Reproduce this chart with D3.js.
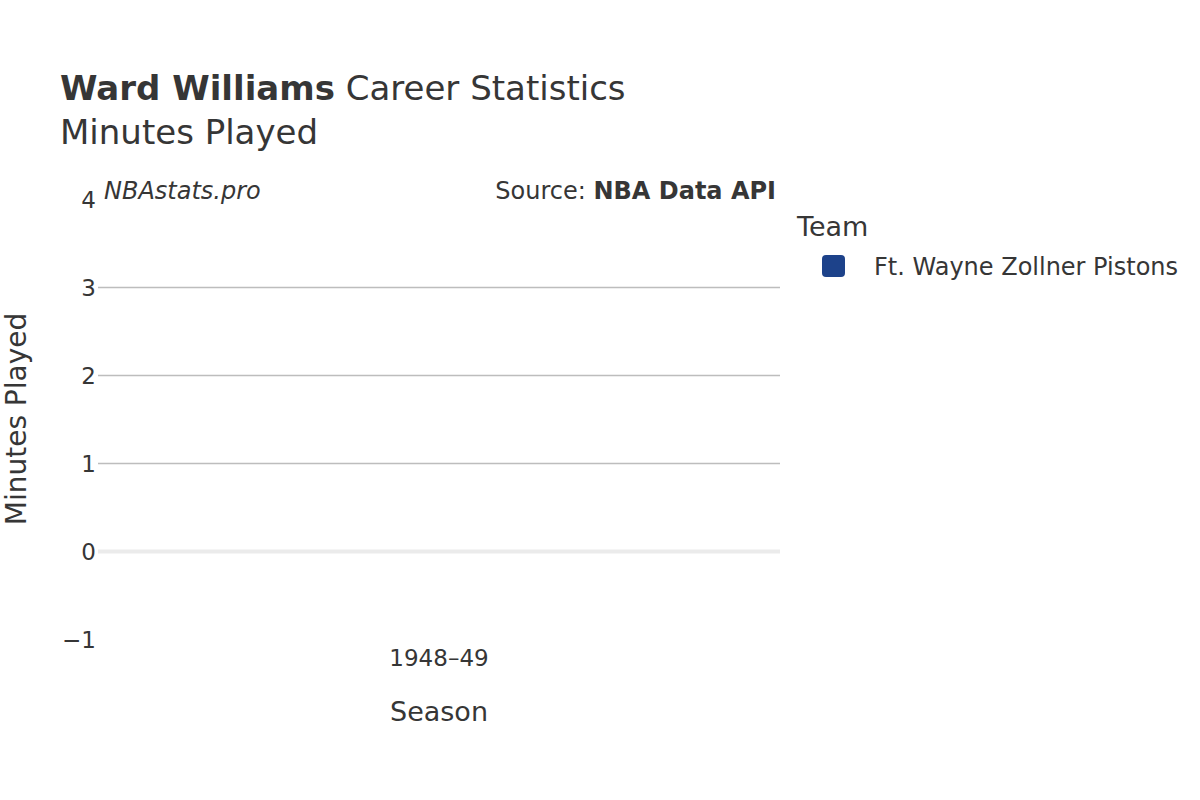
<!DOCTYPE html>
<html>
<head>
<meta charset="utf-8">
<script src="https://cdn.jsdelivr.net/npm/d3@7"></script>
<style>
body { margin: 0; background: #fff; }
text { font-family: "DejaVu Sans", sans-serif; fill: #363636; }
</style>
</head>
<body>
<svg id="chart" width="1200" height="800"></svg>
<script>
const seasons = ["1948–49"];
const teams = ["Ft. Wayne Zollner Pistons"];
const minutes = [0];
const teamColors = ["#1d428a"];
const yTicks = [-1, 0, 1, 2, 3, 4];

const svg = d3.select("#chart");
const plotLeft = 98, plotRight = 780, plotTop = 199.5, plotBottom = 639.5;

const x = d3.scaleBand().domain(seasons).range([plotLeft, plotRight]).padding(0.2);
const y = d3.scaleLinear().domain([-1, 4]).range([plotBottom, plotTop]);

// gridlines
svg.append("g").selectAll("line").data(yTicks.filter(d => d > 0 && d < 4)).join("line")
  .attr("x1", plotLeft).attr("x2", plotRight)
  .attr("y1", d => y(d)).attr("y2", d => y(d))
  .attr("stroke", "#bdbdbd").attr("stroke-width", 1.5);
// zero line
svg.append("line").attr("x1", plotLeft).attr("x2", plotRight)
  .attr("y1", y(0)).attr("y2", y(0))
  .attr("stroke", "#ebebeb").attr("stroke-width", 4);

// bars
svg.append("g").selectAll("rect").data(minutes).join("rect")
  .attr("x", (d, i) => x(seasons[i]))
  .attr("width", x.bandwidth())
  .attr("y", d => y(Math.max(0, d)))
  .attr("height", d => Math.abs(y(d) - y(0)))
  .attr("fill", teamColors[0]);

// y tick labels
svg.append("g").selectAll("text").data(yTicks).join("text")
  .attr("x", 96).attr("y", d => y(d)).attr("dy", "0.36em")
  .attr("text-anchor", "end").style("font-size", "23px")
  .text(d => d < 0 ? "−" + Math.abs(d) : d);

// x tick labels
svg.append("g").selectAll("text").data(seasons).join("text")
  .attr("x", d => x(d) + x.bandwidth() / 2).attr("y", 666)
  .attr("text-anchor", "middle").style("font-size", "23px")
  .text(d => d);

// axis titles
svg.append("text").attr("x", (plotLeft + plotRight) / 2).attr("y", 721)
  .attr("text-anchor", "middle").style("font-size", "27px").text("Season");
svg.append("text").attr("transform", "translate(26,419) rotate(-90)")
  .attr("text-anchor", "middle").style("font-size", "28px").text("Minutes Played");

// title
const t = svg.append("text").attr("x", 60).attr("y", 100).style("font-size", "34px");
t.append("tspan").style("font-weight", "bold").text("Ward Williams");
t.append("tspan").text(" Career Statistics");
svg.append("text").attr("x", 60).attr("y", 144).style("font-size", "34px").text("Minutes Played");

// annotations
svg.append("text").attr("x", 104).attr("y", 199).style("font-size", "24px")
  .style("font-style", "italic").text("NBAstats.pro");
const s = svg.append("text").attr("x", 776).attr("y", 199).attr("text-anchor", "end").style("font-size", "24px");
s.append("tspan").text("Source: ");
s.append("tspan").style("font-weight", "bold").text("NBA Data API");

// legend
svg.append("text").attr("x", 797).attr("y", 236).style("font-size", "27px").text("Team");
const lg = svg.append("g").selectAll("g").data(teams).join("g")
  .attr("transform", (d, i) => `translate(0,${266 + i * 30})`);
lg.append("rect").attr("x", 822).attr("y", -11).attr("width", 23).attr("height", 22)
  .attr("rx", 4).attr("fill", (d, i) => teamColors[i]);
lg.append("text").attr("x", 874).attr("y", 0).attr("dy", "0.36em")
  .style("font-size", "24px").text(d => d);
</script>
</body>
</html>
